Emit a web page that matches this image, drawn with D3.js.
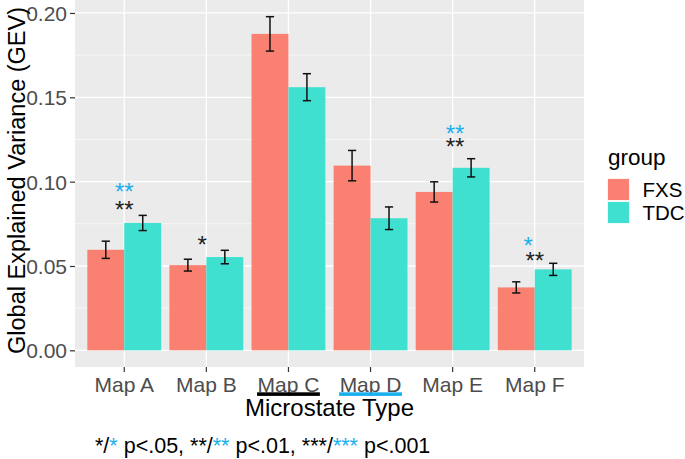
<!DOCTYPE html>
<html><head><meta charset="utf-8">
<script src="https://cdn.jsdelivr.net/npm/d3@7"></script>
<style>body{margin:0;background:#fff}svg{display:block}text{font-family:"Liberation Sans",Arial,sans-serif}</style>
</head><body><svg id="c" width="685" height="459"></svg>
<script>
// ---- data ----
const categories = ["Map A","Map B","Map C","Map D","Map E","Map F"];
const groups = ["FXS","TDC"];
const fxsMean = [0.0596,0.0505,0.1876,0.1095,0.0939,0.0373];
const fxsSE   = [0.0051,0.0035,0.0102,0.0090,0.0060,0.0033];
const tdcMean = [0.0755,0.0553,0.1560,0.0783,0.1082,0.0480];
const tdcSE   = [0.0045,0.0040,0.0080,0.0067,0.0054,0.0036];
const yTicks = [0,0.05,0.10,0.15,0.20];
const yMinor = [0.025,0.075,0.125,0.175];
// significance annotations
const sigCategory = ["Map A","Map A","Map B","Map E","Map E","Map F","Map F"];
const sigLabel    = ["**","**","*","**","**","*","**"];
const sigKind     = ["tdc","fxs","fxs","tdc","fxs","tdc","fxs"];
const sigValue    = [0.0975,0.0864,0.0661,0.1318,0.1237,0.0655,0.0566];
const sigNudge    = [0,0,-0.05,0.03,0.03,-0.08,0];
const footParts = [["*/","k"],["*","b"],[" p<.05, **/","k"],["**","b"],[" p<.01, ***/","k"],["***","b"],[" p<.001","k"]];

const colors = {FXS:"#FA8072", TDC:"#40E0D0"};
const blue = "#1AB0EE";

const svg = d3.select("#c");
const P = {l:75, r:584, t:0, b:367};

const rows = categories.map((c,i)=>({cat:c, FXS:{m:fxsMean[i],se:fxsSE[i]}, TDC:{m:tdcMean[i],se:tdcSE[i]}}));
const maxV = d3.max(rows, r=>Math.max(r.FXS.m+r.FXS.se, r.TDC.m+r.TDC.se));
const ex = maxV*0.05;
const y = d3.scaleLinear().domain([-ex, maxV+ex]).range([P.b, P.t]);
const x = d3.scaleBand().domain(categories).range([P.l,P.r]).paddingInner(0.1).paddingOuter(0.15);
const xg = d3.scaleBand().domain(groups).range([0,x.bandwidth()]).padding(0);
const unit = x.step();
const cx = c => x(c)+x.bandwidth()/2;

// panel
svg.append("rect").attr("x",P.l).attr("y",P.t).attr("width",P.r-P.l).attr("height",P.b-P.t).attr("fill","#EBEBEB");
const grid = svg.append("g");
grid.selectAll(".mn").data(yMinor).join("line").attr("x1",P.l).attr("x2",P.r).attr("y1",d=>y(d)).attr("y2",d=>y(d)).attr("stroke","#fff").attr("stroke-width",0.6);
grid.selectAll(".mj").data(yTicks).join("line").attr("x1",P.l).attr("x2",P.r).attr("y1",d=>y(d)).attr("y2",d=>y(d)).attr("stroke","#fff").attr("stroke-width",1.3);
grid.selectAll(".vx").data(categories).join("line").attr("x1",d=>cx(d)).attr("x2",d=>cx(d)).attr("y1",P.t).attr("y2",P.b).attr("stroke","#fff").attr("stroke-width",1.3);

// bars
const flat = [];
rows.forEach(r=>groups.forEach(g=>flat.push({cat:r.cat,g,m:r[g].m,se:r[g].se})));
svg.append("g").selectAll("rect").data(flat).join("rect")
  .attr("x",d=>x(d.cat)+xg(d.g)).attr("width",xg.bandwidth())
  .attr("y",d=>y(d.m)).attr("height",d=>y(0)-y(d.m)).attr("fill",d=>colors[d.g]);

// error bars
const eb = svg.append("g").attr("stroke","#111").attr("stroke-width",1.5).attr("fill","none");
const capW = 0.1*unit;
flat.forEach(d=>{
  const xc = x(d.cat)+xg(d.g)+xg.bandwidth()/2;
  eb.append("line").attr("x1",xc).attr("x2",xc).attr("y1",y(d.m-d.se)).attr("y2",y(d.m+d.se));
  eb.append("line").attr("x1",xc-capW/2).attr("x2",xc+capW/2).attr("y1",y(d.m-d.se)).attr("y2",y(d.m-d.se));
  eb.append("line").attr("x1",xc-capW/2).attr("x2",xc+capW/2).attr("y1",y(d.m+d.se)).attr("y2",y(d.m+d.se));
});

// significance stars
const sfs = 24;
svg.append("g").selectAll("text").data(sigLabel).join("text")
  .attr("x",(d,i)=>cx(sigCategory[i])+sigNudge[i]*unit)
  .attr("y",(d,i)=>y(sigValue[i])+0.57*sfs)
  .attr("text-anchor","middle").attr("font-size",sfs)
  .attr("fill",(d,i)=>sigKind[i]==="tdc"?blue:"#222").text(d=>d);

// axes
const ya = svg.append("g").attr("transform",`translate(${P.l},0)`)
  .call(d3.axisLeft(y).tickValues(yTicks).tickFormat(d3.format(".2f")).tickSize(5).tickPadding(3));
const xa = svg.append("g").attr("transform",`translate(0,${P.b})`)
  .call(d3.axisBottom(x).tickSize(5).tickPadding(3));
[ya,xa].forEach(a=>{a.select(".domain").remove(); a.selectAll(".tick line").attr("stroke","#333").attr("stroke-width",1.2);
  a.selectAll("text").attr("fill","#4D4D4D").attr("font-size",21).attr("font-family","Liberation Sans, Arial, sans-serif");});
ya.selectAll("text").attr("dy","0.35em");
xa.selectAll("text").attr("dy",null).attr("y",24.5);

// underlines for Map C (black) and Map D (blue)
const ul = [["Map C","#000"],["Map D",blue]];
ul.forEach(([c,col])=>{
  const t = xa.selectAll(".tick").filter(d=>d===c).select("text").node();
  const w = t.getComputedTextLength();
  svg.append("rect").attr("x",cx(c)-w/2-0.5).attr("y",392.3).attr("width",w+1).attr("height",3.6).attr("fill",col);
});

// axis titles
svg.append("text").attr("x",(P.l+P.r)/2).attr("y",416).attr("text-anchor","middle").attr("font-size",24).attr("fill","#000").text("Microstate Type");
svg.append("text").attr("transform",`translate(25,${(P.t+P.b)/2 - 3}) rotate(-90)`).attr("text-anchor","middle").attr("font-size",23.5).attr("fill","#000").text("Global Explained Variance (GEV)");

// footnote
const ft = svg.append("text").attr("x",95).attr("y",453).attr("font-size",21.5).attr("fill","#000");
footParts.forEach(([s,k])=>ft.append("tspan").attr("fill",k==="b"?blue:"#000").attr("xml:space","preserve").text(s));
ft.style("white-space","pre");

// legend
const lg = svg.append("g");
lg.append("text").attr("x",608).attr("y",165).attr("font-size",22.5).attr("fill","#000").text("group");
groups.forEach((g,i)=>{
  lg.append("rect").attr("x",607.5).attr("y",178.5+i*23).attr("width",22).attr("height",22).attr("fill",colors[g]).attr("stroke","#fff").attr("stroke-width",0.8);
  lg.append("text").attr("x",642.5).attr("y",196.5+i*23.3).attr("font-size",20.5).attr("fill","#000").text(g);
});
</script></body></html>
